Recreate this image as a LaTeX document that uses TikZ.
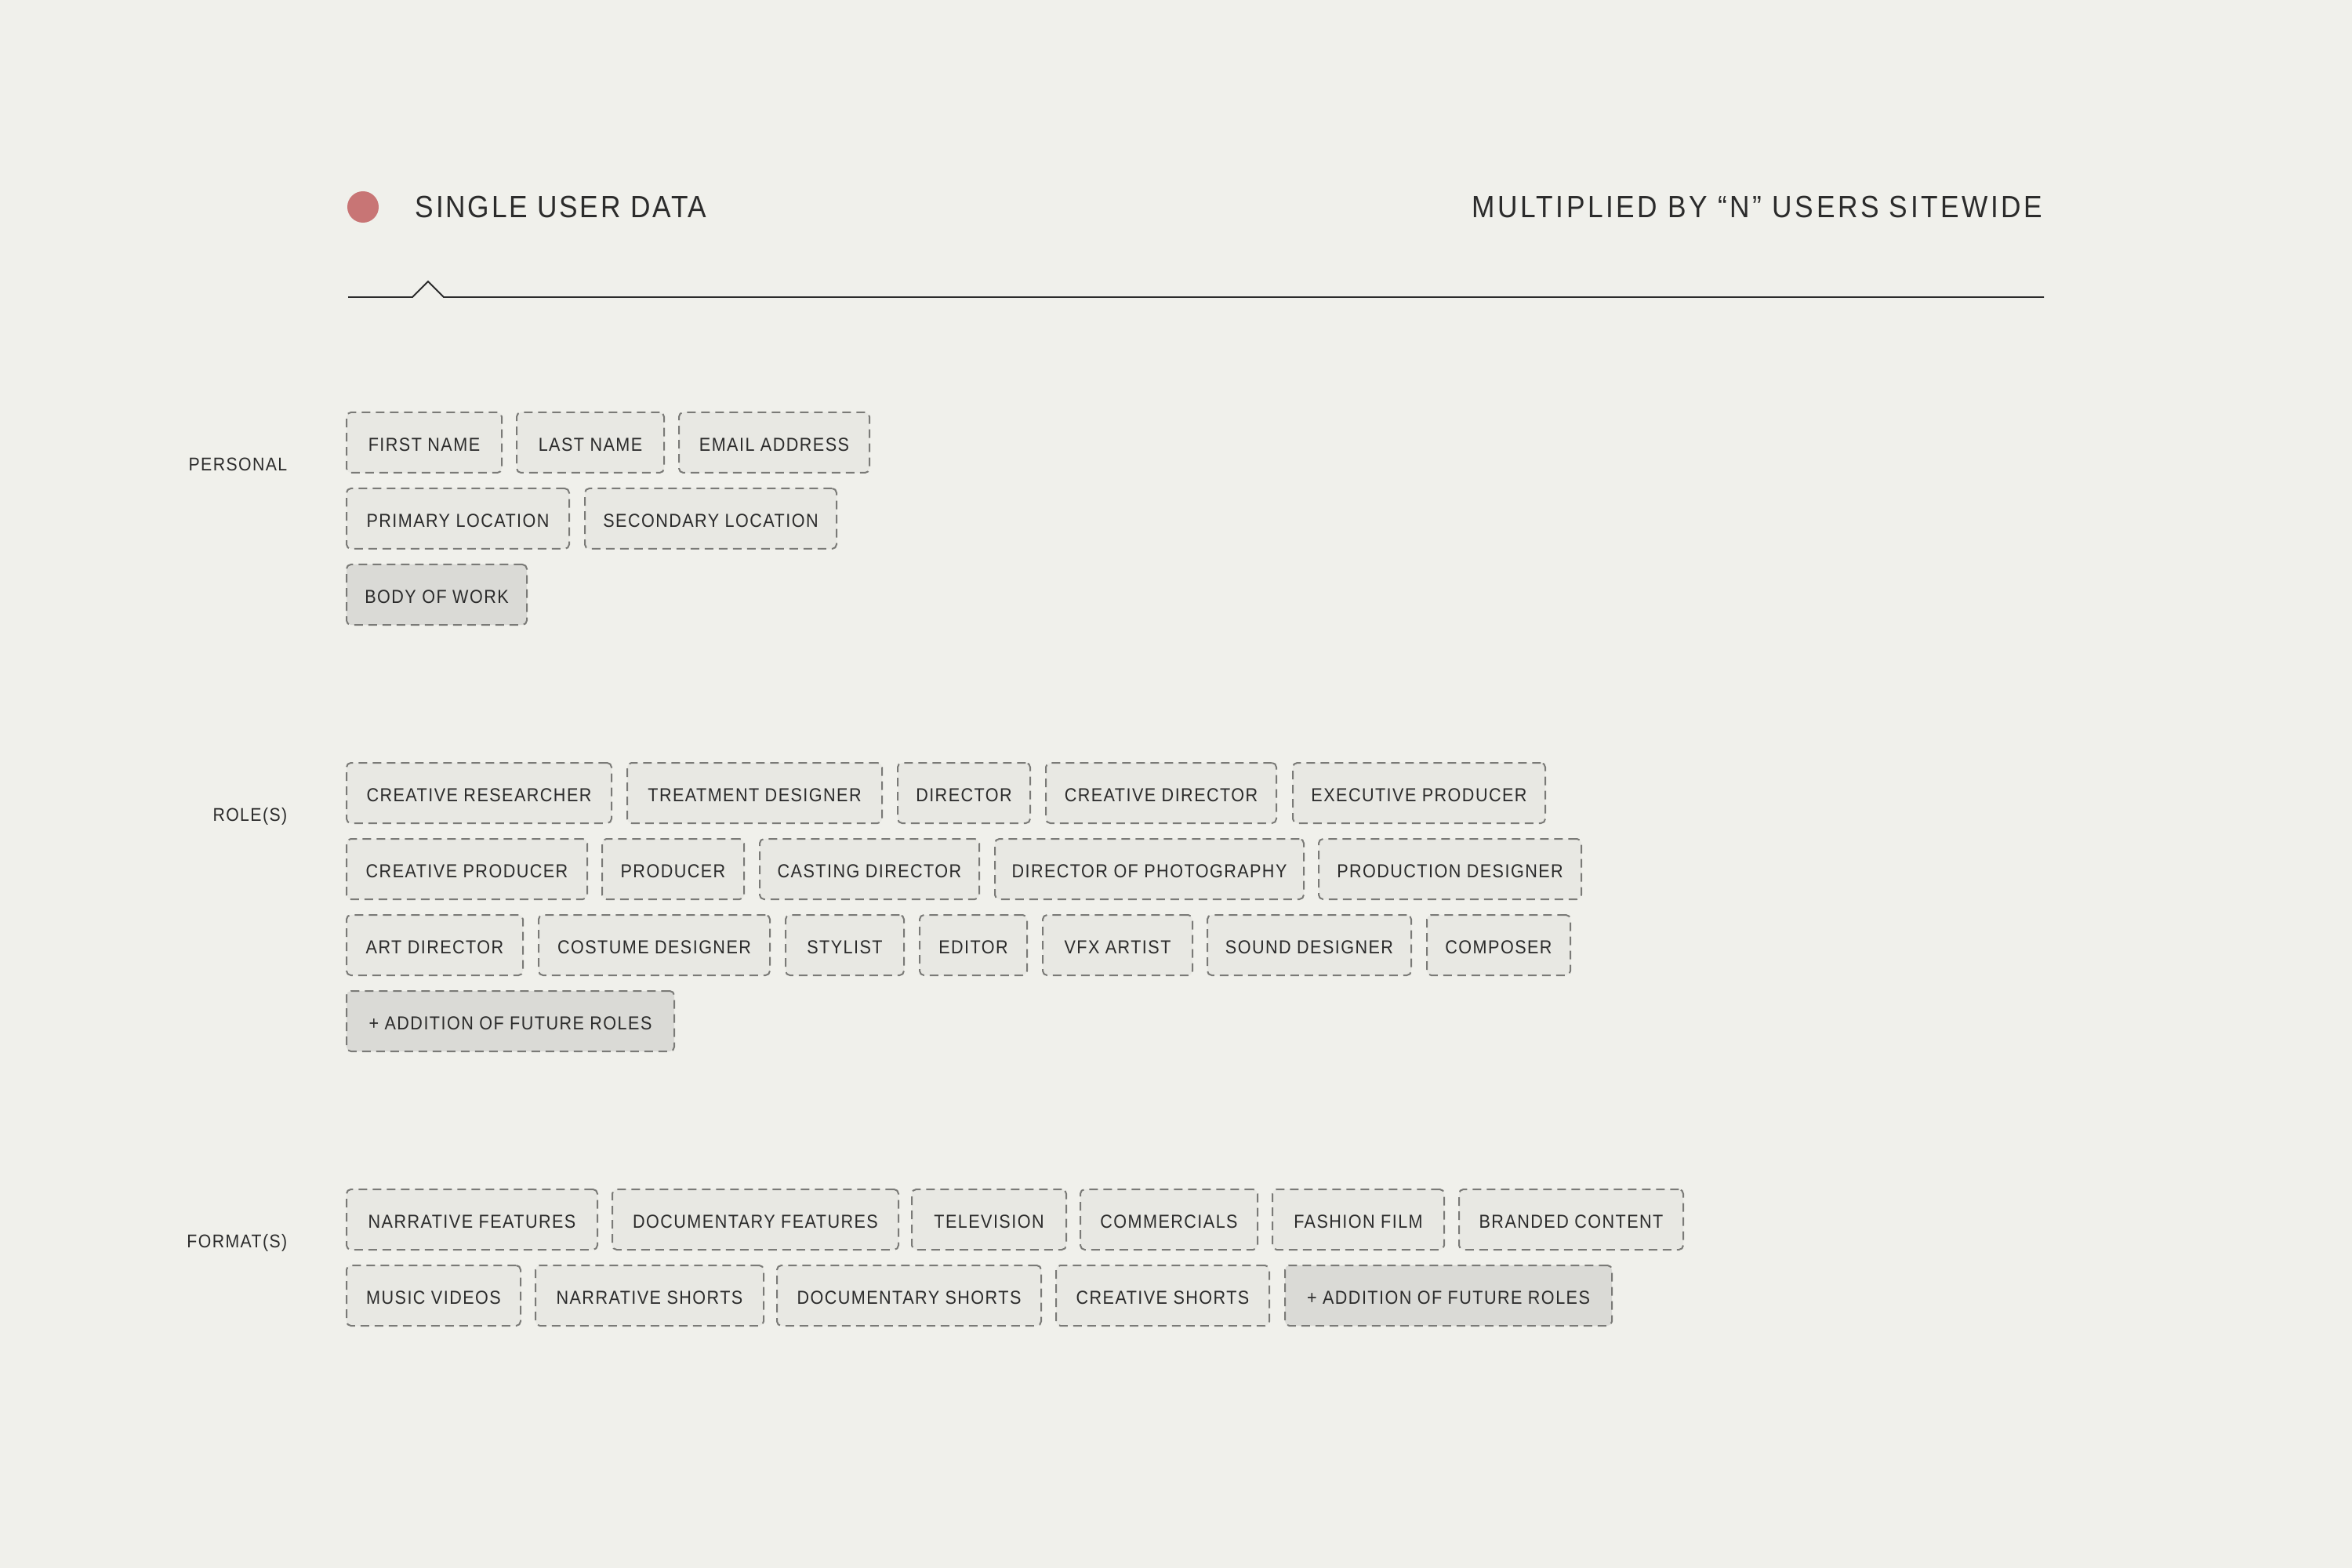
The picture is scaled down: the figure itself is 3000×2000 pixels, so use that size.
\documentclass[tikz,border=0pt]{standalone}
\usepackage{fontspec}
\setmainfont{Liberation Sans}[FakeStretch=0.9, LetterSpace=6]
\newfontfamily\headfont{Liberation Sans}[FakeStretch=0.9, LetterSpace=7]
\newfontfamily\headwide{Liberation Sans}[FakeStretch=0.9, LetterSpace=9]
\definecolor{bg}{HTML}{F0F0EB}
\definecolor{boxfill}{HTML}{E8E8E3}
\definecolor{boxdark}{HTML}{DADAD6}
\definecolor{boxline}{HTML}{7A7A77}
\definecolor{ink}{HTML}{2B2B2B}
\definecolor{dotred}{HTML}{C87575}
\newcommand\tg[6]{\node[#1, minimum width={(#4-#3)*0.25pt}] (#2) at ({(#3+#4)/2},{#5+38.5}) {#6};}
\begin{document}
\begin{tikzpicture}[x=0.25pt,y=-0.25pt,
  tagbox/.style={draw=boxline, line width=0.5pt, dash pattern=on 2.75pt off 1.75pt,
    rounded corners=1.4pt, fill=boxfill, minimum height=19.25pt, inner sep=0pt,
    text height=5.7pt, text depth=0pt,
    text=ink, font=\fontsize{6}{7}\selectfont},
  tagdark/.style={tagbox, fill=boxdark},
  seclabel/.style={anchor=base east, inner sep=0pt, text=ink, font=\fontsize{5.9}{7}\selectfont},
  headtext/.style={inner sep=0pt, text=ink, font=\headfont\fontsize{9.8}{12}\selectfont}]
\fill[bg] (0,0) rectangle (3000,2000);
\useasboundingbox (0,0) rectangle (3000,2000);
% header
\node[circle, fill=dotred, minimum size=10pt, inner sep=0pt] (dot) at (463,264) {};
\node[headtext, anchor=base west] (single) at (529,278) {SINGLE USER DATA};
\node[headtext, anchor=base east, font=\headwide\fontsize{9.8}{12}\selectfont] (multi) at (2606,278) {MULTIPLIED BY “N” USERS SITEWIDE};
\draw[ink, line width=0.45pt] (444,379) -- (526,379) -- (546,359) -- (566,379) -- (2607,379);
% section labels
\node[seclabel] (personal) at (367,601) {PERSONAL};
\node[seclabel] (roles) at (367,1047) {ROLE(S)};
\node[seclabel] (formats) at (367,1591) {FORMAT(S)};
% personal
\tg{tagbox}{p1}{442}{640}{526}{FIRST NAME}
\tg{tagbox}{p2}{659}{847}{526}{LAST NAME}
\tg{tagbox}{p3}{866}{1109}{526}{EMAIL ADDRESS}
\tg{tagbox}{p4}{442}{726}{623}{PRIMARY LOCATION}
\tg{tagbox}{p5}{746}{1067}{623}{SECONDARY LOCATION}
\tg{tagdark}{p6}{442}{672}{720}{BODY OF WORK}
% roles
\tg{tagbox}{r1}{442}{780}{973}{CREATIVE RESEARCHER}
\tg{tagbox}{r2}{800}{1125}{973}{TREATMENT DESIGNER}
\tg{tagbox}{r3}{1145}{1314}{973}{DIRECTOR}
\tg{tagbox}{r4}{1334}{1628}{973}{CREATIVE DIRECTOR}
\tg{tagbox}{r5}{1649}{1971}{973}{EXECUTIVE PRODUCER}
\tg{tagbox}{r6}{442}{749}{1070}{CREATIVE PRODUCER}
\tg{tagbox}{r7}{768}{949}{1070}{PRODUCER}
\tg{tagbox}{r8}{969}{1249}{1070}{CASTING DIRECTOR}
\tg{tagbox}{r9}{1269}{1663}{1070}{DIRECTOR OF PHOTOGRAPHY}
\tg{tagbox}{r10}{1682}{2017}{1070}{PRODUCTION DESIGNER}
\tg{tagbox}{r11}{442}{667}{1167}{ART DIRECTOR}
\tg{tagbox}{r12}{687}{982}{1167}{COSTUME DESIGNER}
\tg{tagbox}{r13}{1002}{1153}{1167}{STYLIST}
\tg{tagbox}{r14}{1173}{1310}{1167}{EDITOR}
\tg{tagbox}{r15}{1330}{1521}{1167}{VFX ARTIST}
\tg{tagbox}{r16}{1540}{1800}{1167}{SOUND DESIGNER}
\tg{tagbox}{r17}{1820}{2003}{1167}{COMPOSER}
\tg{tagdark}{r18}{442}{860}{1264}{+ ADDITION OF FUTURE ROLES}
% formats
\tg{tagbox}{f1}{442}{762}{1517}{NARRATIVE FEATURES}
\tg{tagbox}{f2}{781}{1146}{1517}{DOCUMENTARY FEATURES}
\tg{tagbox}{f3}{1163}{1360}{1517}{TELEVISION}
\tg{tagbox}{f4}{1378}{1604}{1517}{COMMERCIALS}
\tg{tagbox}{f5}{1623}{1842}{1517}{FASHION FILM}
\tg{tagbox}{f6}{1861}{2147}{1517}{BRANDED CONTENT}
\tg{tagbox}{f7}{442}{664}{1614}{MUSIC VIDEOS}
\tg{tagbox}{f8}{683}{974}{1614}{NARRATIVE SHORTS}
\tg{tagbox}{f9}{991}{1328}{1614}{DOCUMENTARY SHORTS}
\tg{tagbox}{f10}{1347}{1619}{1614}{CREATIVE SHORTS}
\tg{tagdark}{f11}{1639}{2056}{1614}{+ ADDITION OF FUTURE ROLES}
\end{tikzpicture}
\end{document}
